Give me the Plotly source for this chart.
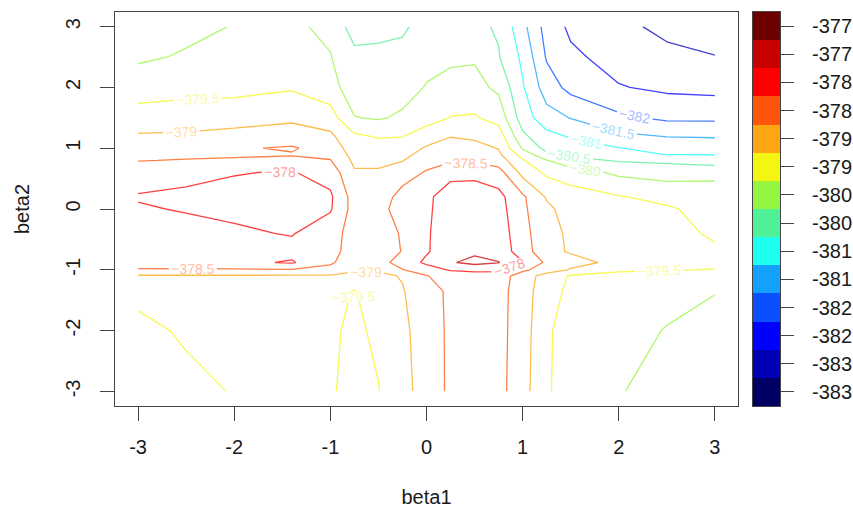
import plotly.graph_objects as go

# Grid of the surface: beta1 (columns) and beta2 (rows)
beta1 = [-3, -2.5, -2, -1.4, -1, -0.75, -0.5, -0.25, 0, 0.25, 0.5, 0.75, 1, 1.25, 1.5, 2, 2.5, 3]
beta2 = [-3, -2, -1.35, -1.1, -1.0, -0.88, -0.7, -0.4, 0, 0.2, 0.6, 0.8, 0.9, 1.0, 1.2, 1.5, 2.0, 2.5, 3.0]

# Log-likelihood values, one list per beta2 row
ll_m300 = [-379.75, -379.6, -379.48, -379.35, -379.45, -379.65, -379.52, -379.15, -378.8, -378.4, -378.3, -378.35, -378.8, -379.45, -379.7, -379.96, -380.25, -380.45]
ll_m200 = [-379.6, -379.45, -379.35, -379.28, -379.42, -379.6, -379.4, -379.1, -378.78, -378.4, -378.3, -378.35, -378.75, -379.45, -379.65, -379.85, -380.02, -380.2]
ll_m135 = [-379.4, -379.32, -379.28, -379.22, -379.38, -379.52, -379.3, -379.03, -378.72, -378.4, -378.3, -378.35, -378.72, -379.35, -379.58, -379.78, -379.87, -379.98]
ll_m110 = [-379.05, -379.05, -379.05, -379.06, -379.05, -379.1, -379.1, -378.97, -378.52, -378.3, -378.2, -378.25, -378.75, -379.2, -379.55, -379.7, -379.8, -379.85]
ll_m100 = [-378.55, -378.55, -378.55, -378.53, -378.6, -378.95, -378.95, -378.52, -378.25, -377.95, -377.9, -377.9, -378.4, -378.75, -379.05, -379.4, -379.47, -379.52]
ll_m088 = [-378.25, -378.2, -378.12, -377.95, -378.45, -378.7, -378.68, -378.3, -377.9, -377.55, -377.35, -377.48, -377.97, -378.6, -378.8, -379.15, -379.3, -379.35]
ll_m070 = [-378.3, -378.25, -378.2, -378.15, -378.35, -378.7, -378.75, -378.48, -378.05, -377.7, -377.6, -377.7, -378.25, -378.85, -379.05, -379.2, -379.3, -379.45]
ll_m040 = [-378.2, -378.15, -378.07, -377.97, -378.3, -378.7, -378.75, -378.45, -378.05, -377.75, -377.7, -377.75, -378.3, -378.9, -379.05, -379.25, -379.38, -379.55]
ll_p000 = [-378.04, -377.97, -377.9, -377.88, -377.95, -378.7, -378.65, -378.3, -378.05, -377.85, -377.8, -377.8, -378.4, -378.9, -379.2, -379.35, -379.45, -379.65]
ll_p020 = [-377.97, -377.93, -377.88, -377.87, -377.92, -378.72, -378.8, -378.3, -378.07, -377.83, -377.8, -377.85, -378.42, -379.05, -379.28, -379.47, -379.62, -379.72]
ll_p060 = [-378.2, -378.1, -378.02, -377.97, -378.2, -378.95, -378.95, -378.75, -378.45, -378.1, -378.1, -378.3, -379.15, -379.6, -379.75, -380.1, -380.22, -380.15]
ll_p080 = [-378.52, -378.47, -378.45, -378.42, -378.48, -379.1, -379.1, -379.02, -378.7, -378.58, -378.58, -378.75, -379.45, -379.98, -380.35, -380.55, -380.6, -380.75]
ll_p090 = [-378.65, -378.62, -378.56, -378.53, -378.62, -379.18, -379.2, -379.12, -378.85, -378.72, -378.72, -378.92, -379.7, -380.4, -380.6, -380.8, -381.02, -381.02]
ll_p100 = [-378.75, -378.72, -378.55, -378.45, -378.72, -379.25, -379.3, -379.22, -378.95, -378.82, -378.85, -379.02, -380.05, -380.65, -380.8, -380.98, -381.2, -381.2]
ll_p120 = [-378.95, -378.92, -378.85, -378.75, -378.9, -379.42, -379.55, -379.52, -379.2, -379.02, -379.08, -379.25, -380.4, -380.85, -381.05, -381.4, -381.52, -381.55]
ll_p150 = [-379.3, -379.27, -379.2, -379.1, -379.28, -379.98, -380.05, -379.92, -379.75, -379.48, -379.45, -379.68, -380.75, -381.3, -381.52, -381.9, -382.1, -382.1]
ll_p200 = [-379.72, -379.65, -379.65, -379.55, -379.8, -380.3, -380.35, -380.2, -379.97, -379.85, -379.85, -380.1, -380.95, -381.75, -382.15, -382.47, -382.6, -382.65]
ll_p250 = [-380.08, -379.95, -379.8, -379.75, -379.98, -380.35, -380.4, -380.35, -380.15, -380.08, -380.05, -380.47, -381.1, -382.05, -382.4, -382.7, -382.85, -382.98]
ll_p300 = [-380.25, -380.12, -379.98, -379.92, -380.1, -380.75, -380.62, -380.58, -380.3, -380.3, -380.4, -380.55, -381.35, -382.2, -382.6, -382.85, -383.15, -383.3]

loglik = [ll_m300, ll_m200, ll_m135, ll_m110, ll_m100, ll_m088, ll_m070, ll_m040,
          ll_p000, ll_p020, ll_p060, ll_p080, ll_p090, ll_p100, ll_p120, ll_p150,
          ll_p200, ll_p250, ll_p300]

# Contour levels drawn
levels = [-383, -382.5, -382, -381.5, -381, -380.5, -380, -379.5, -379, -378.5, -378, -377.5]

# Colour key: band centres (bottom to top), labels and colours
band_centres = [-383.25, -382.75, -382.25, -381.75, -381.25, -380.75, -380.25,
                -379.75, -379.25, -378.75, -378.25, -377.75, -377.25, -376.75]
band_labels = ["-383", "-383", "-382", "-382", "-381", "-381", "-380",
               "-380", "-379", "-379", "-378", "-378", "-377", "-377"]
band_rgb = [(0, 0, 100), (0, 0, 180), (0, 0, 255), (10, 80, 255), (20, 160, 255),
            (30, 255, 240), (80, 240, 150), (150, 245, 65), (245, 245, 20),
            (255, 165, 20), (255, 85, 10), (255, 0, 0), (200, 0, 0), (110, 0, 0)]

xticks = [-3, -2, -1, 0, 1, 2, 3]
yticks = [-3, -2, -1, 0, 1, 2, 3]

FONT = "Liberation Sans, Arial, sans-serif"
AXIS_COL = "#444444"
TEXT_COL = "#1a1a1a"


def rgba(rgb, a):
    return "rgba(%d,%d,%d,%.2f)" % (rgb[0], rgb[1], rgb[2], a)


fig = go.Figure()

key_lo = band_centres[0] - 0.25
for lev in levels:
    k = int(round((lev - key_lo) / 0.5))
    col = rgba(band_rgb[k], 0.75)
    fig.add_trace(go.Contour(
        x=beta1, y=beta2, z=loglik,
        autocontour=False,
        contours=dict(start=lev, end=lev, size=0.5, coloring="lines",
                      showlabels=True,
                      labelfont=dict(family=FONT, size=14, color=rgba(band_rgb[k], 0.42))),
        colorscale=[[0, col], [1, col]],
        line=dict(width=1.3, smoothing=0),
        showscale=False, hoverinfo="skip",
        xaxis="x", yaxis="y",
    ))

# Colour key drawn as a one-column heatmap
n_band = len(band_centres)
fig.add_trace(go.Heatmap(
    x=[0], y=band_centres, z=[[i] for i in range(n_band)],
    zmin=0, zmax=n_band - 1,
    colorscale=[[i / (n_band - 1), rgba(c, 1)] for i, c in enumerate(band_rgb)],
    showscale=False, hoverinfo="skip",
    xaxis="x2", yaxis="y2",
))

axis_common = dict(showline=True, mirror=True, linecolor=AXIS_COL, linewidth=1,
                   ticks="outside", ticklen=14, tickcolor=AXIS_COL, tickwidth=1,
                   showgrid=False, zeroline=False, automargin=False,
                   tickfont=dict(family=FONT, size=20, color=TEXT_COL))

fig.update_layout(
    width=853, height=510,
    margin=dict(l=115, r=73, t=12, b=104),
    paper_bgcolor="white", plot_bgcolor="white",
    showlegend=False,
    xaxis=dict(domain=[0, 0.93684], range=[-3.24, 3.24],
               tickvals=xticks, ticktext=[str(v) for v in xticks],
               ticklabelstandoff=9,
               title=dict(text="beta1", font=dict(family=FONT, size=20, color=TEXT_COL), standoff=32),
               anchor="y", **axis_common),
    yaxis=dict(domain=[0, 1], range=[-3.24, 3.24],
               tickvals=yticks, ticktext=[str(v) for v in yticks],
               tickangle=-90, ticklabelstandoff=12,
               title=dict(text="beta2", font=dict(family=FONT, size=20, color=TEXT_COL), standoff=27),
               anchor="x", **axis_common),
    xaxis2=dict(domain=[0.9594, 1.0], range=[-0.5, 0.5], anchor="y2",
                showline=True, mirror=True, linecolor=AXIS_COL, linewidth=1,
                showticklabels=False, ticks="", showgrid=False, zeroline=False,
                automargin=False),
    yaxis2=dict(domain=[0, 1], range=[-383.5, -376.5], anchor="x2", side="right",
                tickvals=band_centres, ticktext=band_labels,
                showline=True, mirror=True, linecolor=AXIS_COL, linewidth=1,
                ticks="outside", ticklen=13, tickcolor=AXIS_COL, tickwidth=1,
                ticklabelstandoff=14, automargin=False,
                showgrid=False, zeroline=False,
                tickfont=dict(family=FONT, size=20, color=TEXT_COL)),
)

fig.write_html("out.html")
